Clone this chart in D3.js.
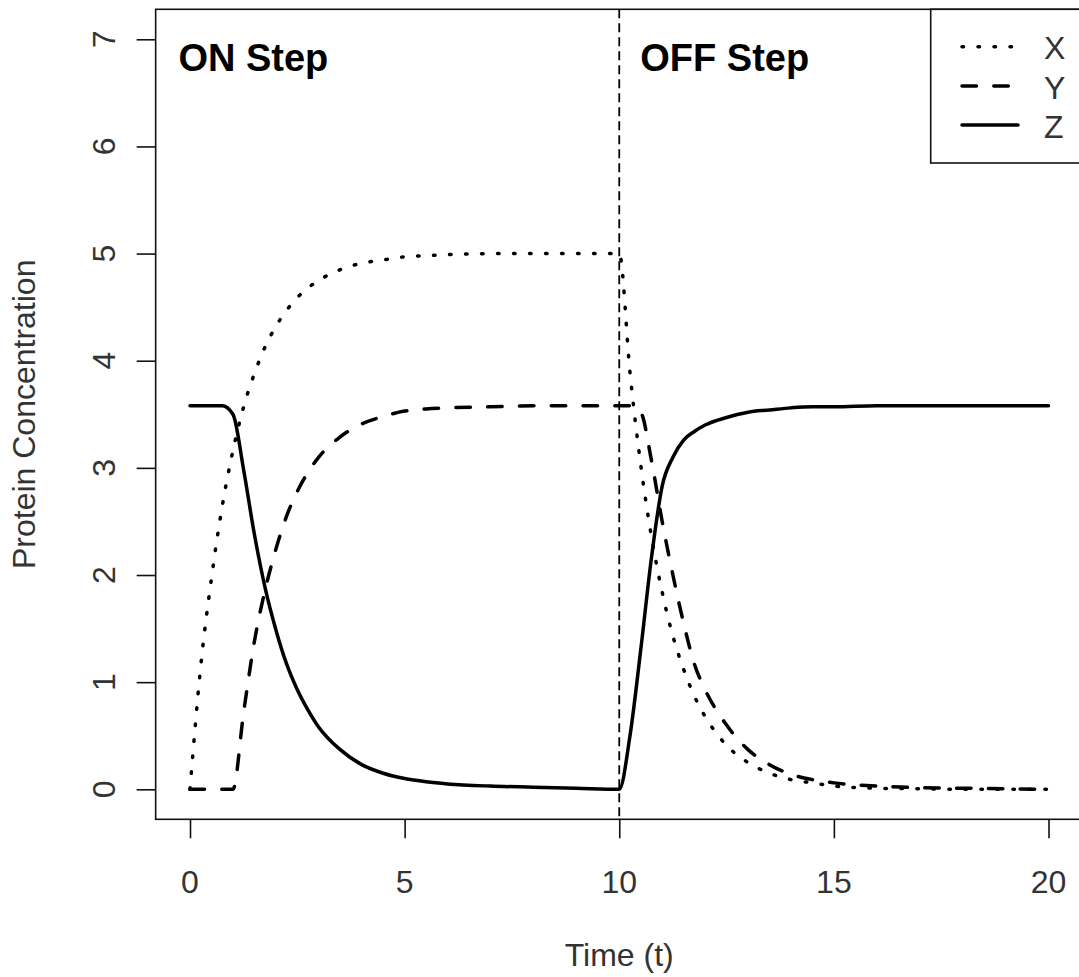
<!DOCTYPE html>
<html>
<head>
<meta charset="utf-8">
<script src="https://cdn.jsdelivr.net/npm/d3@7"></script>
<style>
  body { margin: 0; background: #fff; }
  text { font-family: "Liberation Sans", Arial, sans-serif; }
</style>
</head>
<body>
<div id="chart"></div>
<script>
// time points and the three protein levels
var times = [0, 0.25, 0.5, 0.75, 1, 1.25, 1.5, 1.75, 2, 2.25, 2.5, 2.75, 3, 3.5, 4, 4.5, 5, 5.5, 6, 7, 8, 9, 10,
             10.25, 10.5, 10.75, 11, 11.25, 11.5, 11.75, 12, 12.5, 13, 13.5, 14, 14.5, 15, 16, 17, 18, 19, 20];

var xVals = [0, 1.15, 1.97, 2.64, 3.16, 3.57, 3.88, 4.13, 4.32, 4.47, 4.59, 4.68, 4.75, 4.85, 4.91, 4.94, 4.97, 4.98, 4.99, 5, 5, 5, 5,
             3.89, 3.03, 2.36, 1.84, 1.43, 1.12, 0.87, 0.68, 0.41, 0.25, 0.15, 0.09, 0.06, 0.03, 0.01, 0.005, 0, 0, 0];

var yVals = [0, 0, 0, 0, 0, 0.72, 1.38, 1.86, 2.24, 2.55, 2.78, 2.96, 3.1, 3.29, 3.41, 3.48, 3.53, 3.55, 3.56, 3.57, 3.58, 3.58, 3.58,
             3.58, 3.52, 3.07, 2.5, 2.0, 1.55, 1.17, 0.93, 0.6, 0.37, 0.23, 0.14, 0.09, 0.06, 0.03, 0.015, 0.01, 0.005, 0];

var zVals = [3.58, 3.58, 3.58, 3.58, 3.5, 2.98, 2.38, 1.88, 1.49, 1.17, 0.93, 0.74, 0.58, 0.37, 0.23, 0.15, 0.1, 0.07, 0.05, 0.03, 0.02, 0.01, 0,
             0.5, 1.3, 2.16, 2.83, 3.1, 3.26, 3.34, 3.4, 3.47, 3.52, 3.54, 3.56, 3.57, 3.57, 3.58, 3.58, 3.58, 3.58, 3.58];

var seriesNames = ["X", "Y", "Z"];
var xTicks = [0, 5, 10, 15, 20];
var yTicks = [0, 1, 2, 3, 4, 5, 6, 7];

var w = 1079;
var h = 977;

var svg = d3.select("#chart")
            .append("svg")
            .attr("width", w)
            .attr("height", h);

var xScale = d3.scaleLinear()
    .domain([0, 20])
    .range([190, 1048.5]);

var yScale = d3.scaleLinear()
    .domain([0, 7])
    .range([789.3, 39.3]);

// R style 4% padding around the data range
var x0 = xScale(-0.8), x1 = xScale(20.8);
var y0 = yScale(-0.28), y1 = yScale(7.28);

// line styles: dotted, dashed, solid
var dash = {X: "1.5,14.5", Y: "14.5,17.3", Z: null};

var line = d3.line()
    .x(function(d) { return xScale(d.t); })
    .y(function(d) { return yScale(d.v); })
    .curve(d3.curveMonotoneX);

function makeSeries(vals) {
    return times.map(function(t, i) { return {t: t, v: vals[i]}; });
}
var series = {X: makeSeries(xVals), Y: makeSeries(yVals), Z: makeSeries(zVals)};

svg.append("clipPath")
    .attr("id", "plotclip")
    .append("rect")
    .attr("x", x0).attr("y", y1)
    .attr("width", x1 - x0).attr("height", y0 - y1);

var plot = svg.append("g").attr("clip-path", "url(#plotclip)");

// vertical marker at the step
plot.append("line")
    .attr("x1", xScale(10)).attr("x2", xScale(10))
    .attr("y1", y1).attr("y2", y0)
    .attr("stroke", "#000")
    .attr("stroke-width", 1.8)
    .attr("stroke-dasharray", "9,5");

seriesNames.forEach(function(name) {
    plot.append("path")
        .datum(series[name])
        .attr("d", line)
        .attr("fill", "none")
        .attr("stroke", "#000")
        .attr("stroke-width", 3.5)
        .attr("stroke-linecap", "round")
        .attr("stroke-linejoin", "round")
        .attr("stroke-dasharray", dash[name]);
});

// box
svg.append("rect")
    .attr("x", x0).attr("y", y1)
    .attr("width", x1 - x0).attr("height", y0 - y1)
    .attr("fill", "none")
    .attr("stroke", "#111")
    .attr("stroke-width", 1.6);

// x axis
var xAxis = d3.axisBottom(xScale)
    .tickValues(xTicks)
    .tickSize(19)
    .tickPadding(0)
    .tickFormat("");

var gx = svg.append("g")
    .attr("class", "x axis")
    .attr("transform", "translate(0," + y0 + ")")
    .call(xAxis);
gx.select(".domain").remove();
gx.selectAll("line").attr("stroke", "#111").attr("stroke-width", 1.6);

svg.selectAll(".xlab")
    .data(xTicks)
    .enter()
    .append("text")
    .attr("class", "xlab")
    .attr("x", function(d) { return xScale(d); })
    .attr("y", 892.5)
    .attr("text-anchor", "middle")
    .attr("font-size", 32)
    .attr("fill", "#333")
    .text(function(d) { return d; });

// y axis
var yAxis = d3.axisLeft(yScale)
    .tickValues(yTicks)
    .tickSize(19)
    .tickFormat("");

var gy = svg.append("g")
    .attr("class", "y axis")
    .attr("transform", "translate(" + x0 + ",0)")
    .call(yAxis);
gy.select(".domain").remove();
gy.selectAll("line").attr("stroke", "#111").attr("stroke-width", 1.6);

svg.selectAll(".ylab")
    .data(yTicks)
    .enter()
    .append("text")
    .attr("class", "ylab")
    .attr("transform", function(d) { return "translate(115," + yScale(d) + ") rotate(-90)"; })
    .attr("text-anchor", "middle")
    .attr("font-size", 32)
    .attr("fill", "#333")
    .text(function(d) { return d; });

// axis titles
svg.append("text")
    .attr("x", (x0 + x1) / 2)
    .attr("y", 966)
    .attr("text-anchor", "middle")
    .attr("font-size", 32)
    .attr("fill", "#333")
    .text("Time (t)");

svg.append("text")
    .attr("transform", "translate(35," + (y0 + y1) / 2 + ") rotate(-90)")
    .attr("text-anchor", "middle")
    .attr("font-size", 32)
    .attr("fill", "#333")
    .text("Protein Concentration");

// step annotations
svg.append("text")
    .attr("x", xScale(-0.27))
    .attr("y", yScale(6.7))
    .attr("font-size", 38)
    .attr("font-weight", "bold")
    .text("ON Step");

svg.append("text")
    .attr("x", xScale(10.49))
    .attr("y", yScale(6.7))
    .attr("font-size", 38)
    .attr("font-weight", "bold")
    .text("OFF Step");

// legend
var legend = svg.append("g").attr("class", "legend");

legend.append("rect")
    .attr("x", 930.7).attr("y", y1)
    .attr("width", 200).attr("height", 163 - y1)
    .attr("fill", "#fff")
    .attr("stroke", "#111")
    .attr("stroke-width", 1.6);

var legendY = [46.7, 86, 125];

seriesNames.forEach(function(name, i) {
    legend.append("line")
        .attr("x1", 962).attr("x2", 1018)
        .attr("y1", legendY[i]).attr("y2", legendY[i])
        .attr("stroke", "#000")
        .attr("stroke-width", 3.5)
        .attr("stroke-linecap", "round")
        .attr("stroke-dasharray", dash[name]);

    legend.append("text")
        .attr("x", 1044)
        .attr("y", legendY[i] + 12.5)
        .attr("font-size", 32)
        .attr("fill", "#333")
        .text(name);
});
</script>
</body>
</html>
